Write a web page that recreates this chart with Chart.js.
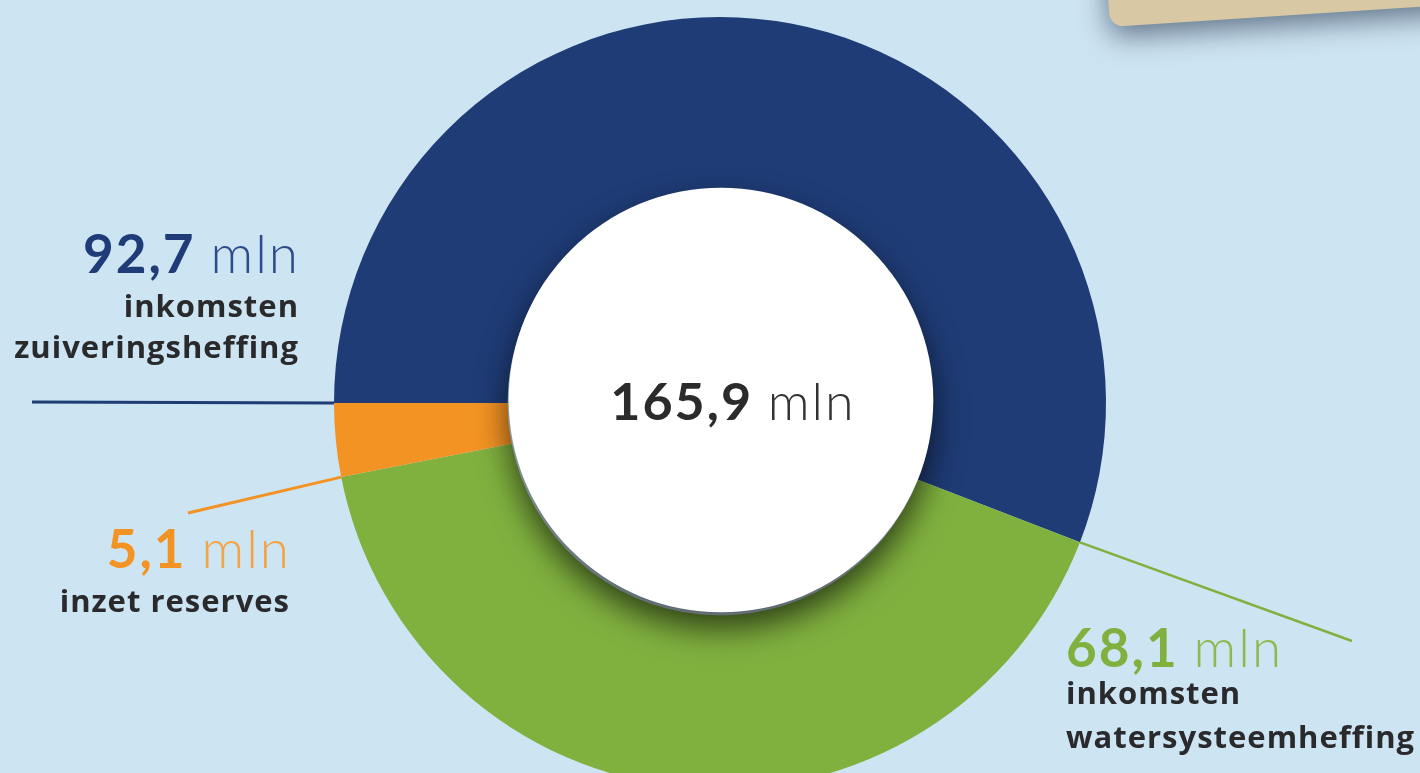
<!DOCTYPE html>
<html lang="nl">
<head>
<meta charset="utf-8">
<title>Inkomsten 165,9 mln</title>
<script src="https://cdn.jsdelivr.net/npm/chart.js@4"></script>
<style>
  html, body { margin: 0; padding: 0; background: #cde4f2; overflow: hidden; }
  #wrap { position: absolute; left: 0; top: 0; width: 1420px; height: 810px; }
</style>
</head>
<body>
<div id="wrap"><canvas id="c-donut"></canvas></div>
<script>
/* global Chart */
(function () {
  "use strict";

  // data, in drawing order (clockwise from 9 o'clock)
  const categories = ["inkomsten zuiveringsheffing", "inkomsten watersysteemheffing", "inzet reserves"];
  const amounts = [92.7, 68.1, 5.1];
  const sliceColors = ["#1f3c76", "#80b13f", "#f39324"];
  const unitLabel = "mln";
  const labelLines = [
    ["inkomsten", "zuiveringsheffing"],
    ["inkomsten", "watersysteemheffing"],
    ["inzet reserves"],
  ];

  const FONT = '"Open Sans", Lato, sans-serif';
  const NUM_FONT = 'Lato, "Open Sans", sans-serif';

  function fmt(v) {
    return v.toFixed(1).replace(".", ",");
  }

  // draws "<bold number> <light unit>" as one run
  function drawValue(ctx, value, x, y, align, size, numColor, unitColor) {
    const numFont = "700 " + size + "px " + NUM_FONT;
    const unitFont = "300 " + size + "px " + NUM_FONT;
    ctx.letterSpacing = "2px";
    ctx.font = numFont;
    const wNum = ctx.measureText(value + " ").width;
    ctx.font = unitFont;
    const wUnit = ctx.measureText(unitLabel).width - 2;
    let left = x;
    if (align === "right") left = x - wNum - wUnit;
    else if (align === "center") left = x - (wNum + wUnit) / 2;
    ctx.textAlign = "left";
    ctx.textBaseline = "alphabetic";
    ctx.font = numFont;
    ctx.fillStyle = numColor;
    ctx.fillText(value, left, y);
    ctx.font = unitFont;
    ctx.fillStyle = unitColor;
    ctx.fillText(unitLabel, left + wNum, y);
    ctx.letterSpacing = "0px";
  }

  // label anchors and leader line ends, per slice
  const labelSpec = [
    { align: "right", x: 298, y: 273, lineY: [317, 358], lineEnd: [32, 402],
      num: "#1f3c78", unit: "#2c4c8c", lw: 3 },
    { align: "left", x: 1066, y: 667, lineY: [704, 748], lineEnd: [1352, 641],
      num: "#80b13f", unit: "#8cba4e", lw: 2.5 },
    { align: "right", x: 289, y: 568, lineY: [612], lineEnd: [188, 513],
      num: "#f39324", unit: "#f5a244", lw: 3 },
  ];

  const decorPlugin = {
    id: "decor",
    beforeDraw(chart) {
      const ctx = chart.ctx;
      // beige card peeking in at top right
      ctx.save();
      ctx.translate(1110, 27);
      ctx.rotate(-0.065);
      ctx.shadowColor = "rgba(30, 45, 70, 0.6)";
      ctx.shadowBlur = 28;
      ctx.shadowOffsetY = 10;
      ctx.fillStyle = "#d8c9a4";
      ctx.beginPath();
      ctx.roundRect(0, -120, 400, 120, 14);
      ctx.fill();
      ctx.restore();
    },
    afterDatasetsDraw(chart) {
      const ctx = chart.ctx;
      const arcs = chart.getDatasetMeta(0).data;
      const cx = arcs[0].x;
      const cy = arcs[0].y;
      const rOut = arcs[0].outerRadius;
      const rIn = arcs[0].innerRadius;

      // white hole with drop shadow
      ctx.save();
      ctx.shadowColor = "rgba(0, 0, 0, 0.65)";
      ctx.shadowBlur = 32;
      ctx.shadowOffsetY = 16;
      ctx.fillStyle = "#ffffff";
      ctx.beginPath();
      ctx.arc(cx + 1, cy - 3, rIn, 0, Math.PI * 2);
      ctx.fill();
      ctx.restore();

      // total in the middle
      const total = amounts.reduce((a, b) => a + b, 0);
      ctx.save();
      drawValue(ctx, fmt(total), cx + 12, cy + 17, "center", 52, "#2b2b2b", "#333333");
      ctx.restore();

      // leader lines from slice start points, and labels
      ctx.save();
      for (let i = 0; i < arcs.length; i++) {
        const a = arcs[i];
        const s = labelSpec[i];
        const px = cx + Math.cos(a.startAngle) * rOut;
        const py = cy + Math.sin(a.startAngle) * rOut;
        ctx.strokeStyle = sliceColors[i];
        ctx.lineWidth = s.lw;
        ctx.beginPath();
        ctx.moveTo(px, py);
        ctx.lineTo(s.lineEnd[0], s.lineEnd[1]);
        ctx.stroke();

        drawValue(ctx, fmt(amounts[i]), s.x, s.y, s.align, 53, s.num, s.unit);
        ctx.font = "700 31px " + FONT;
        ctx.letterSpacing = "1px";
        ctx.fillStyle = "#2a2a2c";
        ctx.textAlign = s.align;
        labelLines[i].forEach(function (t, k) {
          ctx.fillText(t, s.x + (s.align === "right" ? 1 : 0), s.lineY[k]);
        });
        ctx.letterSpacing = "0px";
      }
      ctx.restore();
    },
  };

  new Chart(document.getElementById("c-donut").getContext("2d"), {
    type: "doughnut",
    data: {
      labels: categories,
      datasets: [
        {
          data: amounts,
          backgroundColor: sliceColors,
          borderWidth: 0,
          hoverOffset: 0,
        },
      ],
    },
    options: {
      responsive: true,
      maintainAspectRatio: false,
      animation: false,
      rotation: 270,
      cutout: "55%",
      layout: { padding: { top: 17, bottom: 21, left: 20, right: 0 } },
      events: [],
      plugins: {
        legend: { display: false },
        tooltip: { enabled: false },
      },
    },
    plugins: [decorPlugin],
  });
})();
</script>
</body>
</html>
